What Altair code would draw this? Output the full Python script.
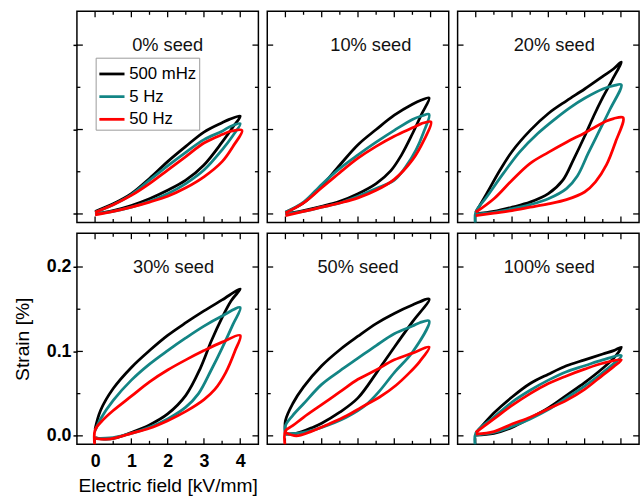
import altair as alt
import pandas as pd

PANELS = ["0% seed", "10% seed", "20% seed", "30% seed", "50% seed", "100% seed"]
SERIES = ["500 mHz", "5 Hz", "50 Hz"]
COLORS = ["#000000", "#138585", "#ff0000"]

X_LABELS = [0, 1, 2, 3, 4]
X_MINOR = [0.5, 1.5, 2.5, 3.5]
Y_LABELS = [0.0, 0.1, 0.2]
Y_MINOR = [0.05, 0.15]
TITLE_DX = [0, 13, 6, 6, 0, 1]

# ---- 0% seed ----
P0_BLACK_X = [0, 0.5, 1, 1.5, 2, 2.5, 3, 3.5, 3.8, 4.0, 3.7, 3.5, 3, 2.5, 2, 1.5, 1, 0.5, 0]
P0_BLACK_Y = [0.000, 0.004, 0.010, 0.018, 0.028, 0.040, 0.058, 0.085, 0.103, 0.116, 0.112, 0.108, 0.097, 0.080, 0.062, 0.042, 0.024, 0.012, 0.003]
P0_TEAL_X = [0, 0.5, 1, 1.5, 2, 2.5, 3, 3.5, 3.8, 4.0, 3.7, 3.5, 3, 2.5, 2, 1.5, 1, 0.5, 0]
P0_TEAL_Y = [0.000, 0.003, 0.008, 0.015, 0.024, 0.036, 0.052, 0.076, 0.093, 0.107, 0.103, 0.098, 0.088, 0.073, 0.057, 0.040, 0.023, 0.011, 0.002]
P0_RED_X = [0, 0.5, 1, 1.5, 2, 2.5, 3, 3.5, 3.8, 4.05, 3.75, 3.5, 3, 2.5, 2, 1.5, 1, 0.5, 0]
P0_RED_Y = [-0.001, 0.003, 0.008, 0.014, 0.021, 0.031, 0.044, 0.062, 0.080, 0.099, 0.098, 0.094, 0.084, 0.068, 0.052, 0.036, 0.022, 0.011, 0.002]

# ---- 10% seed ----
P1_BLACK_X = [0, 0.5, 1, 1.5, 2, 2.5, 2.9, 3.2, 3.5, 3.75, 3.96, 3.75, 3.5, 3, 2.5, 2, 1.5, 1, 0.5, 0]
P1_BLACK_Y = [0, 0.004, 0.009, 0.015, 0.024, 0.036, 0.051, 0.070, 0.095, 0.118, 0.1375, 0.135, 0.130, 0.117, 0.100, 0.082, 0.058, 0.033, 0.013, 0.002]
P1_TEAL_X = [0, 0.5, 1, 1.5, 2, 2.5, 3, 3.3, 3.6, 3.8, 3.96, 3.75, 3.5, 3, 2.5, 2, 1.5, 1, 0.5, 0]
P1_TEAL_Y = [0, 0.003, 0.008, 0.013, 0.021, 0.030, 0.040, 0.055, 0.076, 0.096, 0.118, 0.116, 0.112, 0.099, 0.085, 0.070, 0.054, 0.035, 0.014, 0.002]
P1_RED_X = [0, 0.5, 1, 1.5, 2, 2.5, 3, 3.5, 3.8, 4.01, 3.75, 3.5, 3, 2.5, 2, 1.5, 1, 0.5, 0]
P1_RED_Y = [-0.002, 0.003, 0.008, 0.013, 0.019, 0.028, 0.041, 0.064, 0.086, 0.109, 0.107, 0.102, 0.092, 0.080, 0.066, 0.049, 0.031, 0.013, 0.001]

# ---- 20% seed ----
P2_BLACK_X = [0, 0.5, 1, 1.5, 2, 2.4, 2.7, 3, 3.25, 3.5, 3.75, 4.01, 3.8, 3.5, 3, 2.5, 2, 1.5, 1, 0.67, 0.3, 0]
P2_BLACK_Y = [0, 0.003, 0.008, 0.014, 0.024, 0.040, 0.065, 0.092, 0.116, 0.138, 0.158, 0.180, 0.172, 0.163, 0.148, 0.134, 0.119, 0.099, 0.074, 0.052, 0.024, 0.002]
P2_TEAL_X = [0, 0.5, 1, 1.5, 2, 2.5, 2.8, 3.1, 3.4, 3.7, 4.01, 3.8, 3.5, 3, 2.6, 2.2, 1.7, 1.2, 0.76, 0.3, 0, 0]
P2_TEAL_Y = [0, 0.002, 0.006, 0.011, 0.018, 0.030, 0.045, 0.072, 0.098, 0.124, 0.153, 0.152, 0.148, 0.137, 0.126, 0.113, 0.095, 0.073, 0.048, 0.020, 0.002, -0.015]
P2_RED_X = [0, 0.5, 1, 1.5, 2, 2.5, 3, 3.3, 3.6, 3.85, 4.06, 3.8, 3.6, 3, 2.5, 2, 1.5, 1, 0.5, 0]
P2_RED_Y = [-0.002, 0.001, 0.004, 0.008, 0.012, 0.017, 0.026, 0.038, 0.058, 0.085, 0.114, 0.113, 0.110, 0.096, 0.085, 0.073, 0.060, 0.040, 0.018, 0.002]

# ---- 30% seed ----
P3_BLACK_X = [0, 0.3, 0.6, 1, 1.5, 2, 2.5, 2.9, 3.2, 3.5, 3.75, 4.0, 3.5, 3, 2.5, 2, 1.5, 1, 0.5, 0.15, 0]
P3_BLACK_Y = [-0.002, -0.004, -0.002, 0.004, 0.013, 0.026, 0.048, 0.080, 0.112, 0.140, 0.160, 0.174, 0.161, 0.148, 0.134, 0.119, 0.101, 0.081, 0.056, 0.030, 0.008]
P3_TEAL_X = [0, 0.5, 1, 1.5, 2, 2.5, 2.85, 3.2, 3.5, 3.8, 4.0, 3.5, 3, 2.5, 2, 1.5, 1, 0.5, 0.15, 0]
P3_TEAL_Y = [-0.003, -0.002, 0.003, 0.010, 0.020, 0.034, 0.050, 0.078, 0.104, 0.132, 0.152, 0.142, 0.130, 0.116, 0.101, 0.085, 0.066, 0.042, 0.020, 0.006]
P3_RED_X = [0, 0.3, 0.6, 1, 1.5, 2, 2.5, 3, 3.3, 3.6, 3.85, 4.0, 3.5, 3, 2.5, 2, 1.5, 1, 0.5, 0.2, 0, 0]
P3_RED_Y = [-0.003, -0.004, -0.002, 0.003, 0.009, 0.018, 0.029, 0.043, 0.055, 0.075, 0.100, 0.119, 0.111, 0.101, 0.090, 0.078, 0.064, 0.047, 0.030, 0.018, 0.007, -0.015]

# ---- 50% seed ----
P4_BLACK_X = [0, 0.3, 0.75, 1, 1.5, 2, 2.5, 3, 3.5, 3.96, 3.5, 3, 2.5, 2, 1.5, 1, 0.5, 0.2, 0, 0]
P4_BLACK_Y = [0.002, 0.003, 0.010, 0.015, 0.028, 0.045, 0.074, 0.105, 0.135, 0.162, 0.155, 0.145, 0.133, 0.118, 0.102, 0.083, 0.058, 0.038, 0.018, 0.003]
P4_TEAL_X = [0, 0.5, 1, 1.68, 2.2, 2.59, 3, 3.5, 3.96, 3.7, 3.5, 3, 2.5, 2, 1.5, 1, 0.5, 0.2, 0, 0]
P4_TEAL_Y = [0.002, 0.004, 0.010, 0.022, 0.036, 0.053, 0.075, 0.099, 0.136, 0.134, 0.130, 0.121, 0.107, 0.092, 0.077, 0.061, 0.038, 0.024, 0.012, 0.002]
P4_RED_X = [0, 0.3, 0.7, 1.2, 1.7, 2.1, 2.6, 3.05, 3.4, 3.7, 3.96, 3.5, 3, 2.5, 2, 1.5, 1, 0.5, 0.2, 0, 0]
P4_RED_Y = [0.004, 0.000, 0.005, 0.014, 0.024, 0.034, 0.046, 0.060, 0.074, 0.088, 0.105, 0.098, 0.090, 0.078, 0.067, 0.052, 0.037, 0.022, 0.012, 0.006, -0.015]

# ---- 100% seed ----
P5_BLACK_X = [0, 0.5, 1, 1.5, 2, 2.5, 3, 3.5, 3.8, 4.01, 3.8, 3.5, 3, 2.5, 2, 1.5, 1, 0.5, 0]
P5_BLACK_Y = [0.001, 0.003, 0.010, 0.021, 0.033, 0.048, 0.063, 0.080, 0.092, 0.105, 0.101, 0.097, 0.090, 0.083, 0.073, 0.062, 0.046, 0.027, 0.003]
P5_TEAL_X = [0, 0.5, 1, 1.5, 2, 2.5, 3, 3.5, 4.01, 3.5, 3, 2.5, 2, 1.5, 1, 0.5, 0, 0]
P5_TEAL_Y = [0.001, 0.004, 0.011, 0.020, 0.031, 0.045, 0.059, 0.075, 0.095, 0.090, 0.083, 0.076, 0.066, 0.054, 0.040, 0.022, 0.003, -0.015]
P5_RED_X = [0, 0.5, 1, 1.5, 2, 2.5, 3, 3.5, 3.8, 4.01, 3.5, 3, 2.5, 2, 1.5, 1, 0.5, 0]
P5_RED_Y = [0.002, 0.005, 0.014, 0.022, 0.032, 0.042, 0.055, 0.072, 0.082, 0.090, 0.086, 0.079, 0.071, 0.062, 0.050, 0.036, 0.020, 0.004]

LOOPS = [
    [(P0_BLACK_X, P0_BLACK_Y), (P0_TEAL_X, P0_TEAL_Y), (P0_RED_X, P0_RED_Y)],
    [(P1_BLACK_X, P1_BLACK_Y), (P1_TEAL_X, P1_TEAL_Y), (P1_RED_X, P1_RED_Y)],
    [(P2_BLACK_X, P2_BLACK_Y), (P2_TEAL_X, P2_TEAL_Y), (P2_RED_X, P2_RED_Y)],
    [(P3_BLACK_X, P3_BLACK_Y), (P3_TEAL_X, P3_TEAL_Y), (P3_RED_X, P3_RED_Y)],
    [(P4_BLACK_X, P4_BLACK_Y), (P4_TEAL_X, P4_TEAL_Y), (P4_RED_X, P4_RED_Y)],
    [(P5_BLACK_X, P5_BLACK_Y), (P5_TEAL_X, P5_TEAL_Y), (P5_RED_X, P5_RED_Y)],
]

W, H = 184, 214
FONT = "Liberation Sans"
XS = alt.Scale(domain=[-0.5, 4.5], nice=False, zero=False)
YS = alt.Scale(domain=[-0.01, 0.24], nice=False, zero=False)


def panel_df(i):
    rows = []
    for s, (xs, ys) in enumerate(LOOPS[i]):
        for k, (x, y) in enumerate(zip(xs, ys)):
            rows.append({"series": SERIES[s], "k": k, "x": x, "y": y})
    return pd.DataFrame(rows)


def tick_layers(xaxis, yaxis):
    layers = []
    for vals, L in [(X_LABELS, 6), (X_MINOR, 3.5)]:
        base = alt.Chart(pd.DataFrame({"v": vals})).mark_rule(color="black", strokeWidth=1.3)
        layers.append(base.encode(x=alt.X("v:Q", scale=XS, axis=xaxis), y=alt.value(H), y2=alt.value(H - L)))
        layers.append(base.encode(x=alt.X("v:Q", scale=XS, axis=xaxis), y=alt.value(0), y2=alt.value(L)))
    for vals, L in [(Y_LABELS, 6), (Y_MINOR, 3.5)]:
        base = alt.Chart(pd.DataFrame({"v": vals})).mark_rule(color="black", strokeWidth=1.3)
        layers.append(base.encode(y=alt.Y("v:Q", scale=YS, axis=yaxis), x=alt.value(0), x2=alt.value(L)))
        layers.append(base.encode(y=alt.Y("v:Q", scale=YS, axis=yaxis), x=alt.value(W), x2=alt.value(W - L)))
    return layers


def make_panel(i):
    row, col = i // 3, i % 3
    if row == 1 and col == 0:
        xaxis = alt.Axis(values=X_LABELS, format="d", title="Electric field [kV/mm]", grid=False,
                         domain=False, ticks=False, labelFontWeight="bold", labelFontSize=18,
                         labelPadding=9, titleFontSize=19.5, titleFontWeight="normal", titlePadding=6)
    else:
        xaxis = None
    if col == 0:
        shown = "black" if row == 1 else "transparent"
        yaxis = alt.Axis(values=Y_LABELS, format=".1f", title="Strain [%]", grid=False, domain=False,
                         ticks=True, tickSize=4, tickWidth=1.5, tickColor="black",
                         labelFontWeight="bold", labelFontSize=18, labelPadding=2, labelColor=shown,
                         titleFontSize=19.5, titleFontWeight="normal", titlePadding=14, titleColor=shown)
    else:
        yaxis = None

    if i == 0:
        legend = alt.Legend(orient="none", legendX=19, legendY=47, title=None, strokeColor="#999999",
                            fillColor="white", padding=2, symbolType="stroke", symbolStrokeWidth=2.8,
                            symbolSize=650, labelFontSize=17, labelFont=FONT, rowPadding=0,
                            labelOffset=3, labelColor="black")
    else:
        legend = None

    lines = alt.Chart(panel_df(i)).mark_line(strokeWidth=2.8, clip=True, interpolate="catmull-rom").encode(
        x=alt.X("x:Q", scale=XS, axis=xaxis),
        y=alt.Y("y:Q", scale=YS, axis=yaxis),
        color=alt.Color("series:N", scale=alt.Scale(domain=SERIES, range=COLORS), legend=legend),
        order=alt.Order("k:Q"),
    )
    title = alt.Chart(pd.DataFrame({"t": [PANELS[i]]})).mark_text(
        font=FONT, fontSize=18.5, color="#111111", align="center", baseline="middle"
    ).encode(text="t:N", x=alt.value(W / 2 + TITLE_DX[i]), y=alt.value(34))

    return alt.layer(*tick_layers(xaxis, yaxis), lines, title).properties(width=W, height=H)


panels = [make_panel(i) for i in range(6)]

top = alt.hconcat(*panels[:3], spacing=5).resolve_scale(color="independent")
bottom = alt.hconcat(*panels[3:], spacing=5).resolve_scale(color="independent")

chart = alt.vconcat(top, bottom, spacing=7).resolve_scale(color="independent").properties(
    padding={"left": 12, "top": 6, "right": 3, "bottom": 1}
).configure_view(stroke="black", strokeWidth=1.5).configure_axis(
    labelFont=FONT, titleFont=FONT, labelColor="black", titleColor="black"
)

chart.save("out.html", embed_options={"renderer": "svg", "actions": False})
